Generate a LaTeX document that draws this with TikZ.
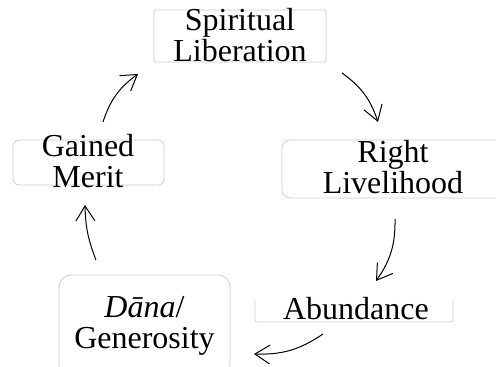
\documentclass[tikz,border=0pt]{standalone}
\usepackage{fontspec}
\setmainfont{Liberation Serif}
\usetikzlibrary{arrows.meta}

\tikzset{
    lbl/.style={font=\fontsize{32}{31}\selectfont, align=center, inner sep=0pt},
    box/.style={draw=black!20, line width=0.8pt},
    flow/.style={line width=1pt, -{Straight Barb[length=15pt,width=19pt,line width=1pt]}, bend left=18}
}

\begin{document}
\begin{tikzpicture}[x=1pt, y=1pt]
    \useasboundingbox (0,0) rectangle (496,367);

    % Draw the light frames behind the labels
    \draw[box, rounded corners=1] (154,305) rectangle (326,357);
    \draw[box, rounded corners=8] (282,169) rectangle (510,227);
    \draw[box, rounded corners=2] (255,67) -- (255,45) -- (453,45) -- (453,67);
    \draw[box, rounded corners=12] (59,-10) rectangle (230,92);
    \draw[box, rounded corners=6] (13,182) rectangle (164,227);

    % Place the labels of the cycle
    \node[lbl] (spirit) at (240,332) {Spiritual\\Liberation};
    \node[lbl] (right) at (393,199.5) {Right\\Livelihood};
    \node[lbl] (abund) at (356,58.5) {Abundance};
    \node[lbl] (dana) at (144.5,41) {\textit{Dāna}/\\Generosity};
    \node[lbl] (merit) at (88,206) {Gained\\Merit};

    % Connect them clockwise with curved arrows
    \draw[flow] ([shift={(15,39)}]merit.center) to ([shift={(-102,-39)}]spirit.center);
    \draw[flow] ([shift={(102,-38)}]spirit.center) to ([shift={(-15,45.5)}]right.center);
    \draw[flow] ([shift={(2,-51.5)}]right.center) to ([shift={(20,27.5)}]abund.center);
    \draw[flow] ([shift={(-33,-25.5)}]abund.center) to ([shift={(109.5,-28)}]dana.center);
    \draw[flow, bend left=10] ([shift={(-48.5,66)}]dana.center) to ([shift={(-3,-44)}]merit.center);

\end{tikzpicture}
\end{document}
